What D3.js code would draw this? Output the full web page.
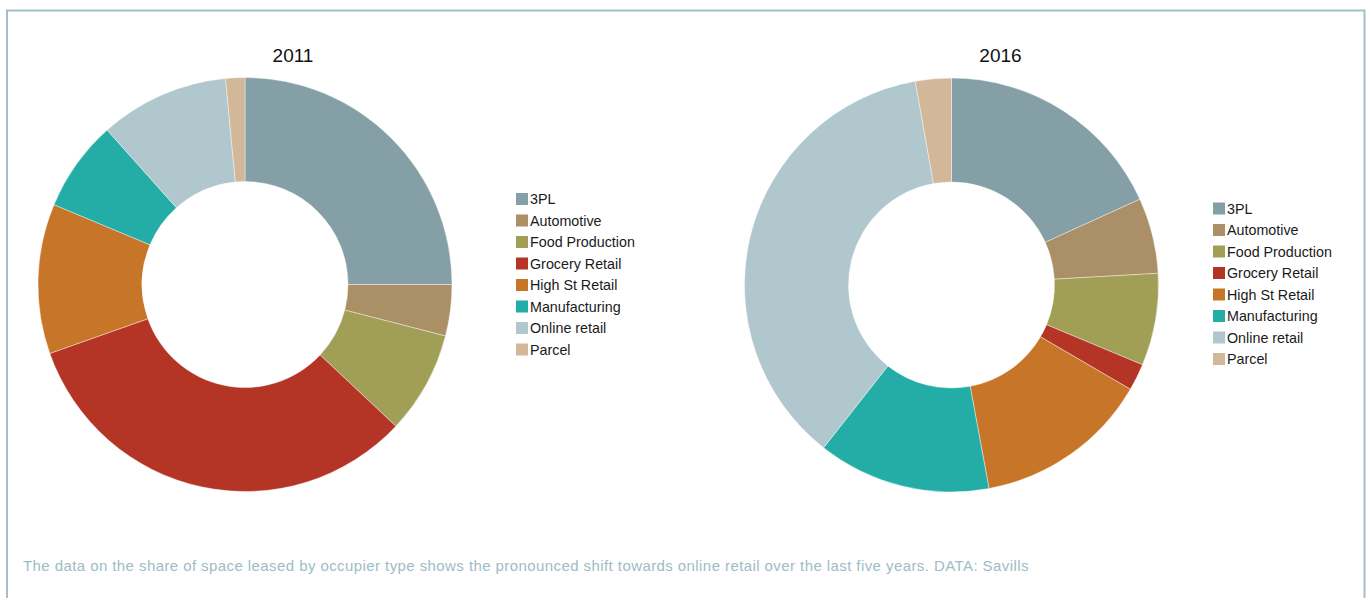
<!DOCTYPE html>
<html>
<head>
<meta charset="utf-8">
<script src="https://cdn.jsdelivr.net/npm/d3@7"></script>
<style>
  html, body { margin: 0; padding: 0; background: #fff; }
  svg { display: block; font-family: "Liberation Sans", Arial, sans-serif; }
</style>
</head>
<body>
<svg id="chart" width="1370" height="598"></svg>
<script>
// Share of space leased by occupier type (%)
const categories = ["3PL", "Automotive", "Food Production", "Grocery Retail",
                    "High St Retail", "Manufacturing", "Online retail", "Parcel"];
const share2011 = [25.0, 4.0, 8.0, 32.6, 11.7, 7.1, 10.1, 1.5];
const share2016 = [18.2, 5.9, 7.2, 2.1, 13.7, 13.5, 36.6, 2.8];
const years = ["2011", "2016"];
const palette = ["#84a0a6", "#ab8f66", "#a19e55", "#b43526",
                 "#c77629", "#24ada6", "#b0c7cd", "#d2b899"];
const caption = "The data on the share of space leased by occupier type shows the pronounced shift towards online retail over the last five years. DATA: Savills";

const svg = d3.select("#chart");
const color = d3.scaleOrdinal().domain(categories).range(palette);

// frame
svg.append("rect")
  .attr("x", 7).attr("y", 10.5)
  .attr("width", 1357.5).attr("height", 620)
  .attr("fill", "none")
  .attr("stroke", "#a2bfc7")
  .attr("stroke-width", 2);

const panels = [
  { year: years[0], values: share2011, cx: 245, cy: 284.5, titleX: 293, legendX: 516, legendY: 193 },
  { year: years[1], values: share2016, cx: 951.5, cy: 285, titleX: 1000.5, legendX: 1213, legendY: 202.5 }
];

const pie = d3.pie().sort(null).value(d => d.value);
const arc = d3.arc().innerRadius(103).outerRadius(207);

panels.forEach(p => {
  const rows = categories.map((c, i) => ({ name: c, value: p.values[i] }));

  svg.append("text")
    .attr("x", p.titleX).attr("y", 62)
    .attr("text-anchor", "middle")
    .attr("font-size", 19)
    .attr("fill", "#111")
    .text(p.year);

  const g = svg.append("g").attr("transform", `translate(${p.cx},${p.cy})`);
  g.selectAll("path")
    .data(pie(rows))
    .join("path")
    .attr("d", arc)
    .attr("fill", d => color(d.data.name))
    .attr("stroke", "#ffffff")
    .attr("stroke-width", 0.4);

  const lg = svg.append("g").attr("transform", `translate(${p.legendX},${p.legendY})`);
  const item = lg.selectAll("g")
    .data(categories)
    .join("g")
    .attr("transform", (d, i) => `translate(0,${i * 21.5})`);
  item.append("rect")
    .attr("width", 12).attr("height", 12)
    .attr("fill", d => color(d));
  item.append("text")
    .attr("x", 14).attr("y", 11)
    .attr("font-size", 14.3)
    .attr("fill", "#1a1a1a")
    .text(d => d);
});

svg.append("text")
  .attr("x", 23).attr("y", 571)
  .attr("font-size", 15)
  .attr("letter-spacing", 0.42)
  .attr("fill", "#9dbcc5")
  .text(caption);
</script>
</body>
</html>
